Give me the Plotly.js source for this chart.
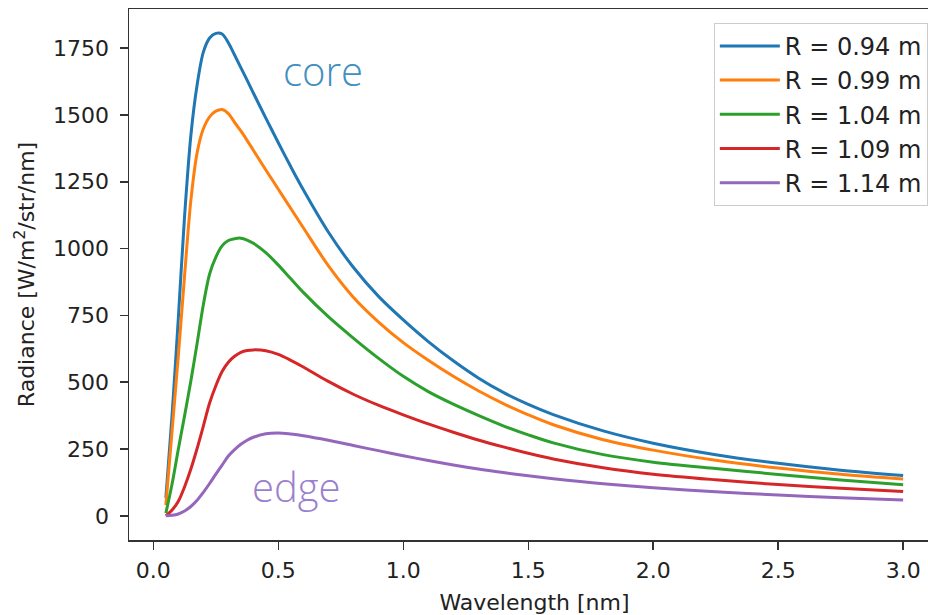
<!DOCTYPE html>
<html>
<head>
<meta charset="utf-8">
<script src="https://cdn.plot.ly/plotly-3.0.1.min.js"></script>
<style>
  html, body { margin: 0; padding: 0; overflow: hidden; background: #fff; }
  #chart { width: 945px; height: 615px; }
</style>
</head>
<body>
<div id="chart"></div>
<script>
// Wavelength grid [nm]
const wavelength = [0.05, 0.075, 0.1, 0.125, 0.15, 0.175, 0.2, 0.225, 0.25, 0.275, 0.3, 0.325, 0.35, 0.375, 0.4, 0.45, 0.5, 0.55, 0.6, 0.7, 0.8, 0.9, 1.0, 1.1, 1.2, 1.3, 1.4, 1.5, 1.6, 1.8, 2.0, 2.25, 2.5, 2.75, 3.0];

// Radiance [W/m^2/str/nm] per radius
const r094 = [67, 380, 742, 1123, 1423, 1612, 1735, 1788, 1805, 1803, 1770, 1724, 1677, 1630, 1582, 1488, 1396, 1306, 1220, 1062, 930, 822, 733, 652, 580, 516, 462, 417, 379, 318, 272, 229, 197, 171, 151];
const r099 = [40, 320, 600, 900, 1180, 1358, 1448, 1493, 1514, 1520, 1505, 1472, 1440, 1405, 1368, 1294, 1222, 1150, 1078, 936, 818, 726, 648, 582, 522, 468, 420, 378, 341, 285, 246, 208, 179, 156, 138];
const r104 = [10, 120, 250, 375, 505, 645, 790, 905, 968, 1010, 1030, 1037, 1039, 1032, 1020, 985, 938, 887, 836, 745, 665, 590, 522, 465, 418, 376, 337, 303, 273, 229, 201, 177, 155, 134, 116];
const r109 = [0, 22, 55, 109, 175, 252, 336, 422, 487, 540, 575, 597, 612, 619, 621, 618, 604, 582, 557, 503, 455, 414, 378, 344, 313, 284, 258, 234, 213, 180, 156, 135, 117, 103, 91];
const r114 = [0, 2, 7, 18, 35, 58, 88, 121, 156, 190, 224, 248, 268, 283, 294, 307, 310, 306, 300, 283, 263, 244, 225, 207, 190, 175, 162, 150, 139, 120, 105, 90, 78, 68, 59];

const seriesNames = ["R = 0.94 m", "R = 0.99 m", "R = 1.04 m", "R = 1.09 m", "R = 1.14 m"];
const seriesValues = [r094, r099, r104, r109, r114];
const seriesColors = ["#1f77b4", "#ff7f0e", "#2ca02c", "#d62728", "#9467bd"];

const xTicks = [0, 0.5, 1.0, 1.5, 2.0, 2.5, 3.0];
const xTickLabels = ["0.0", "0.5", "1.0", "1.5", "2.0", "2.5", "3.0"];
const yTicks = [0, 250, 500, 750, 1000, 1250, 1500, 1750];
const yTickLabels = ["0", "250", "500", "750", "1000", "1250", "1500", "1750"];

const FONT = "DejaVu Sans, Arial, sans-serif";

const traces = seriesValues.map((vals, i) => ({
  type: "scatter",
  mode: "lines",
  x: wavelength,
  y: vals,
  name: seriesNames[i],
  line: { color: seriesColors[i], width: 3, shape: "spline", smoothing: 0.9 }
}));

const layout = {
  width: 945,
  height: 615,
  margin: { l: 129, r: 5, t: 9, b: 75, pad: 0 },
  paper_bgcolor: "#ffffff",
  plot_bgcolor: "#ffffff",
  font: { family: FONT, size: 22, color: "#222" },
  showlegend: true,
  legend: {
    x: 0.985, y: 0.974, xanchor: "right", yanchor: "top",
    bgcolor: "rgba(255,255,255,0.85)",
    bordercolor: "#cccccc", borderwidth: 1,
    itemwidth: 60,
    font: { family: FONT, size: 24, color: "#222" }
  },
  xaxis: {
    range: [-0.0975, 3.1475],
    tickmode: "array", tickvals: xTicks, ticktext: xTickLabels,
    ticks: "outside", ticklen: 8, tickwidth: 1.5, tickcolor: "#333",
    ticklabelstandoff: 2,
    showline: true, linecolor: "#333", linewidth: 1.5, mirror: true,
    showgrid: false, zeroline: false,
    title: { text: "Wavelength [nm]", font: { family: FONT, size: 22, color: "#222" }, standoff: 13 }
  },
  yaxis: {
    range: [-90.3, 1896.3],
    tickmode: "array", tickvals: yTicks, ticktext: yTickLabels,
    ticks: "outside", ticklen: 8, tickwidth: 1.5, tickcolor: "#333",
    ticklabelstandoff: 6,
    showline: true, linecolor: "#333", linewidth: 1.5, mirror: true,
    showgrid: false, zeroline: false,
    title: { text: "Radiance [W/m<sup>2</sup>/str/nm]", font: { family: FONT, size: 22, color: "#222" }, standoff: 12 }
  },
  annotations: [
    { x: 0.678, y: 1668, xref: "x", yref: "y", text: "core", showarrow: false,
      font: { family: "Open Sans, sans-serif", size: 40, color: "#3f8fc0", weight: 300 },
      xanchor: "center", yanchor: "middle" },
    { x: 0.574, y: 110, xref: "x", yref: "y", text: "edge", showarrow: false,
      font: { family: "Open Sans, sans-serif", size: 40, color: "#9a7fd0", weight: 300 },
      xanchor: "center", yanchor: "middle" }
  ]
};

Plotly.newPlot("chart", traces, layout, { displayModeBar: false, staticPlot: true });
</script>
</body>
</html>
